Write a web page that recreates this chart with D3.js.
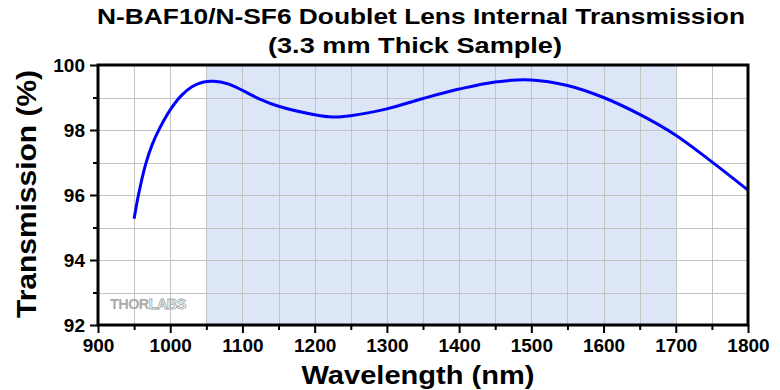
<!DOCTYPE html>
<html><head><meta charset="utf-8">
<script src="https://cdn.jsdelivr.net/npm/d3@7"></script>
<style>body{margin:0;background:#fff}svg{display:block}text{font-family:"Liberation Sans",Arial,sans-serif;font-weight:bold}</style>
</head><body><svg id="c" width="780" height="390"></svg>
<script>
const wavelength = [950,956,966,975,986,1000,1015,1030,1045,1060,1080,1100,1124,1150,1200,1225,1250,1300,1350,1400,1450,1500,1550,1600,1650,1700,1750,1800];
const transmission = [95.27,96.0,96.95,97.55,98.08,98.62,99.05,99.33,99.47,99.5,99.42,99.22,98.95,98.73,98.47,98.40,98.44,98.65,98.97,99.26,99.48,99.54,99.37,99.0,98.48,97.84,97.02,96.15];
const shadeRange = [1050,1700];
const xTicks = [900,1000,1100,1200,1300,1400,1500,1600,1700,1800];
const yTicks = [92,94,96,98,100];
const titleLines = ["N-BAF10/N-SF6 Doublet Lens Internal Transmission","(3.3 mm Thick Sample)"];
const xLabel = "Wavelength (nm)";
const yLabel = "Transmission (%)";

const svg = d3.select("#c");
const L=98,R=748,T=65,B=325;
const x = d3.scaleLinear().domain([900,1800]).range([L,R]);
const y = d3.scaleLinear().domain([92,100]).range([B,T]);

svg.append("rect").attr("x",x(shadeRange[0])).attr("y",T).attr("width",x(shadeRange[1])-x(shadeRange[0])).attr("height",B-T).attr("fill","#dce6f6");

const g = svg.append("g").attr("stroke","#c3c3c3").attr("stroke-width",1);
d3.range(950,1800,50).forEach(v=>g.append("line").attr("x1",Math.round(x(v))+0.5).attr("x2",Math.round(x(v))+0.5).attr("y1",T).attr("y2",B));
d3.range(93,100,1).forEach(v=>g.append("line").attr("y1",Math.round(y(v))+0.5).attr("y2",Math.round(y(v))+0.5).attr("x1",L).attr("x2",R));

const logo = svg.append("text").attr("x",110).attr("y",309).attr("font-size",14.5).attr("letter-spacing","-0.6");
logo.append("tspan").text("THOR").attr("fill","#aaaaaa");
logo.append("tspan").text("LABS").attr("fill","none").attr("stroke","#aaaaaa").attr("stroke-width",0.9);

const line = d3.line().x(d=>x(d[0])).y(d=>y(d[1])).curve(d3.curveCatmullRom.alpha(0.5));
svg.append("path").datum(wavelength.map((w,i)=>[w,transmission[i]])).attr("d",line).attr("fill","none").attr("stroke","#0000ff").attr("stroke-width",3);

const xa = svg.append("g").attr("transform",`translate(0,${B})`).call(d3.axisBottom(x).tickValues(xTicks).tickSize(8).tickFormat(d3.format("d")));
const xm = svg.append("g").attr("transform",`translate(0,${B})`).call(d3.axisBottom(x).tickValues(d3.range(950,1800,100)).tickSize(5).tickFormat(""));
const ya = svg.append("g").attr("transform",`translate(${L},0)`).call(d3.axisLeft(y).tickValues(yTicks).tickSize(8));
const ym = svg.append("g").attr("transform",`translate(${L},0)`).call(d3.axisLeft(y).tickValues([93,95,97,99]).tickSize(5).tickFormat(""));
[xa,xm,ya,ym].forEach(a=>{a.select(".domain").remove();a.selectAll("line").attr("stroke","#000").attr("stroke-width",2);});
xa.selectAll("text").attr("font-size",19).attr("fill","#000").attr("y",14).attr("dy","0.71em");
ya.selectAll("text").attr("font-size",19).attr("fill","#000").attr("x",-13).attr("dy","0.35em");

svg.append("rect").attr("x",L).attr("y",T).attr("width",R-L).attr("height",B-T).attr("fill","none").attr("stroke","#000").attr("stroke-width",3);

svg.append("text").attr("x",421).attr("y",24).attr("text-anchor","middle").attr("font-size",22).attr("textLength",648).attr("lengthAdjust","spacingAndGlyphs").text(titleLines[0]);
svg.append("text").attr("x",415).attr("y",53).attr("text-anchor","middle").attr("font-size",22).attr("textLength",294).attr("lengthAdjust","spacingAndGlyphs").text(titleLines[1]);
svg.append("text").attr("x",418).attr("y",384).attr("text-anchor","middle").attr("font-size",25).attr("textLength",233).attr("lengthAdjust","spacingAndGlyphs").text(xLabel);
svg.append("text").attr("transform","translate(36,194) rotate(-90)").attr("text-anchor","middle").attr("font-size",28).attr("textLength",248).attr("lengthAdjust","spacingAndGlyphs").text(yLabel);
</script></body></html>
